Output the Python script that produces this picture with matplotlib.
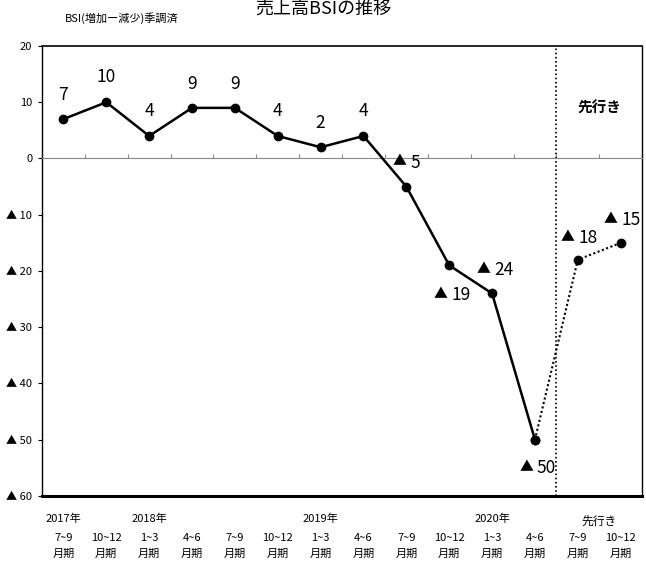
import matplotlib
matplotlib.use("Agg")
import matplotlib.pyplot as plt
import numpy as np

plt.rcParams['font.family'] = ['Noto Sans CJK JP', 'DejaVu Sans']

# Quarterly BSI values (actual through 2020 4-6, then outlook)
years = ["2017年", "", "2018年", "", "", "", "2019年", "", "", "", "2020年", "", "", ""]
periods = ["7~9", "10~12", "1~3", "4~6", "7~9", "10~12", "1~3", "4~6",
           "7~9", "10~12", "1~3", "4~6", "7~9", "10~12"]
actual = [7, 10, 4, 9, 9, 4, 2, 4, -5, -19, -24, -50]
outlook = [-18, -15]
y_ticks = [20, 10, 0, -10, -20, -30, -40, -50, -60]


def fmt(v):
    return f"▲ {abs(v)}" if v < 0 else f"{v}"


fig = plt.figure(figsize=(6.46, 5.61), dpi=100)
ax = fig.add_axes([0.065, 0.116, 0.929, 0.802])

n = len(periods)
x_act = np.arange(len(actual))
x_out = np.arange(len(actual), n)

ax.plot(x_act, actual, color='black', lw=1.8, marker='o', ms=6, zorder=3)
ax.plot(np.r_[x_act[-1], x_out], [actual[-1]] + outlook, color='black', lw=1.5,
        ls=(0, (1, 1.2)), marker='o', ms=6, zorder=3)

# value labels: positives centred above the point; negatives drawn as a small
# triangle followed by the magnitude, anchored at the gap between them (pixels)
PX = 0.72
pos_off = [(0, 24), (0, 25), (0, 25), (0, 24), (0, 24), (0, 25), (0, 24), (0, 25)]
neg_off = [(2, 19), (0, -35), (0, 18), (0, -33), (-1, 17), (-1, 18)]
values = actual + outlook
k = 0
for i, v in enumerate(values):
    if v >= 0:
        dx, dy = pos_off[i]
        ax.annotate(fmt(v), (i, v), xytext=(dx * PX, dy * PX), textcoords='offset points',
                    ha='center', va='center', fontsize=12.5)
    else:
        dx, dy = neg_off[k]
        k += 1
        ax.annotate("▲", (i, v), xytext=((dx - 2) * PX, (dy + 2) * PX),
                    textcoords='offset points', ha='right', va='baseline', fontsize=10)
        ax.annotate(str(abs(v)), (i, v), xytext=((dx + 2) * PX, dy * PX),
                    textcoords='offset points', ha='left', va='baseline', fontsize=12.5)

ax.set_xlim(-0.5, n - 0.5)
ax.set_ylim(-60, 20)
ax.set_yticks(y_ticks)
ax.set_yticklabels([fmt(v) for v in y_ticks], fontsize=8)
ax.tick_params(axis='y', length=3, width=0.8, pad=4)

# zero baseline with category separators
ax.spines['bottom'].set_position(('data', 0))
ax.spines['bottom'].set_color('#888888')
ax.set_xticks(np.arange(n + 1) - 0.5)
ax.set_xticklabels([])
ax.tick_params(axis='x', direction='in', length=3, color='#888888')
ax.axhline(-60, color='black', lw=2.2, clip_on=False, zorder=4)
for s in ['top', 'right', 'left']:
    ax.spines[s].set_color('black')
ax.spines['top'].set_linewidth(1.2)
ax.spines['left'].set_linewidth(1.0)
ax.spines['right'].set_linewidth(1.0)

# boundary between actual and outlook
ax.axvline(len(actual) - 0.5, color='black', lw=1.2, ls=(0, (1, 1.5)))
ax.text((len(actual) + n - 1) / 2, 9, "先行き", ha='center', va='center',
        fontsize=10.5, fontweight='bold')

# category labels below the axes
tr = ax.get_xaxis_transform()
for i in range(n):
    if years[i]:
        ax.text(i, -0.051, years[i], transform=tr, ha='center', va='center', fontsize=8)
    ax.text(i, -0.093, periods[i], transform=tr, ha='center', va='center', fontsize=8)
    ax.text(i, -0.128, "月期", transform=tr, ha='center', va='center', fontsize=8)
ax.text((len(actual) + n - 1) / 2, -0.056, "先行き", transform=tr, ha='center',
        va='center', fontsize=8.5)

fig.text(0.1, 0.968, "BSI(増加ー減少)季調済", ha='left', va='center', fontsize=8)
fig.text(0.5, 0.984, "売上高BSIの推移", ha='center', va='center', fontsize=13)

fig.savefig("out.png", dpi=100)
